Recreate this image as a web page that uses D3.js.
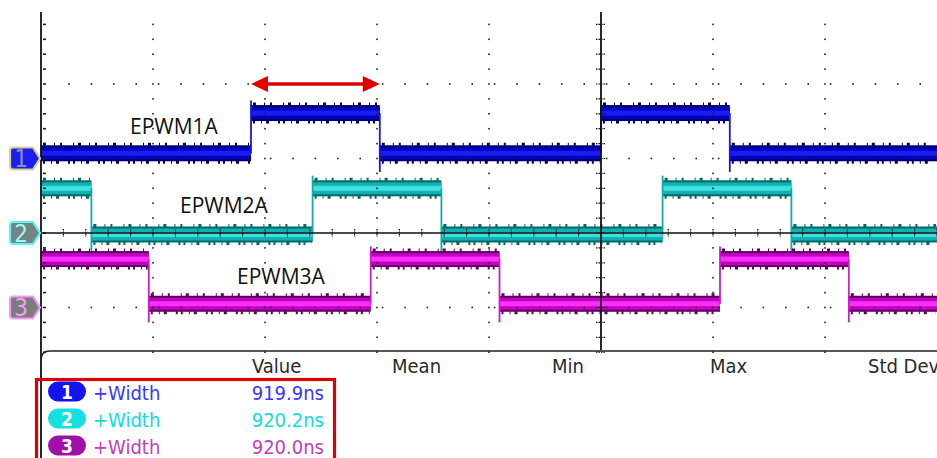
<!DOCTYPE html>
<html>
<head>
<meta charset="utf-8">
<script src="https://cdn.jsdelivr.net/npm/d3@7"></script>
<style>
body { margin:0; background:#fff; }
svg { display:block; }
</style>
</head>
<body>
<div class="scope"></div>
<script>
// edge times in ns (0 = screen centre, 800ns/div)
var ch1Edges = [-2500, -1580, 0, 920];
var ch2Edges = [-3640, -2060, -1140, 440, 1360];
var ch3Edges = [-3230, -1645, -725, 850, 1770];
var startLevels = [0, 1, 1];
// levels in divisions
var offsets = [1, 0, -1];
var lowLevels = [1.07, -0.02, -0.95];
var highLevels = [1.61, 0.6, -0.35];
var channelNames = ["EPWM1A", "EPWM2A", "EPWM3A"];
var statHeaders = ["Value", "Mean", "Min", "Max", "Std Dev"];
var measureLabels = ["+Width", "+Width", "+Width"];
var measureValues = ["919.9ns", "920.2ns", "920.0ns"];
var arrowSpan = [-2500, -1580];

var width = 937, height = 458;
var tStart = -4000, tEnd = 2400;

var x = d3.scaleLinear().domain([-4000, 4000]).range([41, 1161]);
var y = d3.scaleLinear().domain([-4, 4]).range([531, -65]);

var colors = [
	{outer:"#00006a", body:"#0000c0", center:"#1c1cf0", edge:"#1a1ac8"},
	{outer:"#006a6a", body:"#12b0b0", center:"#40e0e0", edge:"#14a8a8"},
	{outer:"#600060", body:"#c000c0", center:"#ff30ff", edge:"#c420c4"}
];
var markerStyle = [
	{fill:"#1c1cf4", stroke:"#d8d098", text:"#8a94a8"},
	{fill:"#748484", stroke:"#5ff4f4", text:"#9ff8f8"},
	{fill:"#7c7c7c", stroke:"#f09cf0", text:"#f0a0f0"}
];
var pillColors = ["#1414f0", "#14e0e0", "#a010a8"];
var textColors = ["#3838ff", "#10dcdc", "#c040c0"];

var svg = d3.select(".scope").append("svg")
	.attr("width", width)
	.attr("height", height);

var plotBottom = 350;

// traces
var allEdges = [ch1Edges, ch2Edges, ch3Edges];
var traces = svg.append("g").attr("id", "traces");

allEdges.forEach(function(edges, c){
	var segs = [];
	var lvl = startLevels[c];
	var t0 = tStart;
	edges.forEach(function(t){
		segs.push({t0:t0, t1:t, lvl:lvl});
		lvl = 1 - lvl;
		t0 = t;
	});
	segs.push({t0:t0, t1:tEnd, lvl:lvl});
	var col = colors[c];
	var lv = function(d){ return y(d.lvl ? highLevels[c] : lowLevels[c]); };
	var g = traces.append("g");

	// noise fuzz on band edges
	[-9, 9].forEach(function(off, k){
		g.selectAll(null).data(segs).enter().append("line")
			.attr("x1", function(d){ return x(d.t0) + 2; })
			.attr("x2", function(d){ return x(d.t1) - 1; })
			.attr("y1", function(d){ return lv(d) + off; })
			.attr("y2", function(d){ return lv(d) + off; })
			.attr("stroke", col.outer)
			.attr("stroke-width", 3)
			.attr("stroke-dasharray", k ? "2 6 1 4 3 9 2 3" : "3 8 1 5 2 11 1 4");
	});

	g.selectAll(null).data(segs).enter().append("rect")
		.attr("x", function(d){ return x(d.t0); })
		.attr("width", function(d){ return x(d.t1) - x(d.t0); })
		.attr("y", function(d){ return lv(d) - 8; })
		.attr("height", 16)
		.attr("fill", col.outer);
	g.selectAll(null).data(segs).enter().append("rect")
		.attr("x", function(d){ return x(d.t0); })
		.attr("width", function(d){ return x(d.t1) - x(d.t0); })
		.attr("y", function(d){ return lv(d) - 6; })
		.attr("height", 12)
		.attr("fill", col.body);
	g.selectAll(null).data(segs).enter().append("rect")
		.attr("x", function(d){ return x(d.t0); })
		.attr("width", function(d){ return x(d.t1) - x(d.t0); })
		.attr("y", function(d){ return lv(d) - 2.5; })
		.attr("height", 5)
		.attr("fill", col.center);

	// thin transition edges with over/undershoot
	g.selectAll(null).data(segs.slice(1)).enter().append("line")
		.attr("x1", function(d){ return x(d.t0); })
		.attr("x2", function(d){ return x(d.t0); })
		.attr("y1", function(d){ return d.lvl ? y(lowLevels[c]) : y(highLevels[c]); })
		.attr("y2", function(d){ return d.lvl ? y(highLevels[c] + 0.17) : y(lowLevels[c] - 0.25); })
		.attr("stroke", col.edge)
		.attr("stroke-width", 1.8);
});

// grid dots
var grid = svg.append("g").attr("id", "grid").attr("fill", "#222");
var vDivs = [-3200, -2400, -1600, -800, 800, 1600];
var hDivs = [2, 1, -1];
vDivs.forEach(function(t){
	grid.selectAll(null).data(d3.range(2.8, -1.61, -0.2)).enter().append("rect")
		.attr("x", x(t) - 0.8).attr("y", function(d){ return y(d) - 0.8; })
		.attr("width", 1.6).attr("height", 1.6);
});
hDivs.forEach(function(v){
	grid.selectAll(null).data(d3.range(-3800, 2401, 160)).enter().append("rect")
		.attr("x", function(d){ return x(d) - 0.8; }).attr("y", y(v) - 0.8)
		.attr("width", 1.6).attr("height", 1.6);
});
// left border ticks
grid.selectAll(null).data(d3.range(2.8, -1.61, -0.2)).enter().append("rect")
	.attr("x", 43).attr("y", function(d){ return y(d) - 0.8; })
	.attr("width", 3).attr("height", 1.6);

// centre axes with ticks
var axes = svg.append("g").attr("id", "axes").attr("stroke", "#111");
axes.append("line").attr("x1", 41).attr("x2", width).attr("y1", y(0)).attr("y2", y(0)).attr("stroke-width", 1.5);
axes.append("line").attr("x1", x(0)).attr("x2", x(0)).attr("y1", 12).attr("y2", plotBottom).attr("stroke-width", 1.8);
axes.selectAll(null).data(d3.range(-3840, 2401, 160)).enter().append("line")
	.attr("x1", function(d){ return x(d); }).attr("x2", function(d){ return x(d); })
	.attr("y1", y(0) - 4).attr("y2", y(0) + 4)
	.attr("stroke-width", 1.2).attr("stroke-dasharray", "1.5 1");
axes.selectAll(null).data(d3.range(2.8, -1.61, -0.2)).enter().append("line")
	.attr("x1", x(0) - 5).attr("x2", x(0) + 5)
	.attr("y1", function(d){ return y(d); }).attr("y2", function(d){ return y(d); })
	.attr("stroke-width", 1.2).attr("stroke-dasharray", "1.5 1");

// frame
svg.append("line").attr("x1", 41).attr("x2", 41).attr("y1", 12).attr("y2", height)
	.attr("stroke", "#111").attr("stroke-width", 1.8);
svg.append("path")
	.attr("d", "M41,360 Q41,351 50,351 L" + width + ",351")
	.attr("fill", "none").attr("stroke", "#222").attr("stroke-width", 1.5);

// channel markers
offsets.forEach(function(o, i){
	var c = y(o);
	var m = markerStyle[i];
	svg.append("path")
		.attr("d", "M13," + (c - 11) + " L33," + (c - 11) + " L40," + c + " L33," + (c + 11) +
			" L13," + (c + 11) + " Q10," + (c + 11) + " 10," + (c + 8) + " L10," + (c - 8) + " Q10," + (c - 11) + " 13," + (c - 11) + " Z")
		.attr("fill", m.fill).attr("stroke", m.stroke).attr("stroke-width", 2.2);
	svg.append("text")
		.attr("x", 21).attr("y", c + 8.5)
		.attr("text-anchor", "middle")
		.attr("font-family", "DejaVu Sans Condensed, DejaVu Sans, sans-serif")
		.attr("font-size", 24)
		.attr("fill", m.text)
		.text(i + 1);
});

// channel labels
var labelPos = [[130, 134], [180, 213], [237, 284]];
svg.selectAll(".chlabel").data(channelNames).enter().append("text")
	.attr("class", "chlabel")
	.attr("x", function(d, i){ return labelPos[i][0]; })
	.attr("y", function(d, i){ return labelPos[i][1]; })
	.attr("font-family", "Open Sans, sans-serif")
	.attr("font-size", 21)
	.attr("fill", "#111")
	.text(function(d){ return d; });

// red double arrow
var ay = y(2), ax1 = x(arrowSpan[0]), ax2 = x(arrowSpan[1]);
svg.append("line").attr("x1", ax1 + 12).attr("x2", ax2 - 12).attr("y1", ay).attr("y2", ay)
	.attr("stroke", "#e00000").attr("stroke-width", 3.5);
svg.append("path").attr("d", "M" + ax1 + "," + ay + " L" + (ax1 + 17) + "," + (ay - 8) + " L" + (ax1 + 17) + "," + (ay + 8) + " Z").attr("fill", "#e00000");
svg.append("path").attr("d", "M" + ax2 + "," + ay + " L" + (ax2 - 17) + "," + (ay - 8) + " L" + (ax2 - 17) + "," + (ay + 8) + " Z").attr("fill", "#e00000");

// measurement panel
var headerX = [252, 392, 552, 710, 868];
svg.selectAll(".hdr").data(statHeaders).enter().append("text")
	.attr("class", "hdr")
	.attr("x", function(d, i){ return headerX[i]; })
	.attr("y", 373)
	.attr("font-family", "DejaVu Sans Condensed, DejaVu Sans, sans-serif")
	.attr("font-size", 20)
	.attr("fill", "#2a2a2a")
	.text(function(d){ return d; });

svg.append("rect").attr("x", 36.5).attr("y", 379.5).attr("width", 298).attr("height", 90)
	.attr("fill", "none").attr("stroke", "#dd0000").attr("stroke-width", 3.2);

var rows = svg.selectAll(".row").data(measureValues).enter().append("g")
	.attr("class", "row")
	.attr("transform", function(d, i){ return "translate(0," + (391.5 + i * 27) + ")"; });
rows.append("rect").attr("x", 48).attr("y", -10).attr("width", 38).attr("height", 20).attr("rx", 10)
	.attr("fill", function(d, i){ return pillColors[i]; });
rows.append("text").attr("x", 67).attr("y", 7.5).attr("text-anchor", "middle")
	.attr("font-family", "DejaVu Sans Condensed, DejaVu Sans, sans-serif").attr("font-size", 19)
	.attr("font-weight", "bold").attr("fill", "#fff")
	.text(function(d, i){ return i + 1; });
rows.append("text").attr("x", 93).attr("y", 8)
	.attr("font-family", "DejaVu Sans Condensed, DejaVu Sans, sans-serif").attr("font-size", 20)
	.attr("fill", function(d, i){ return textColors[i]; })
	.text(function(d, i){ return measureLabels[i]; });
rows.append("text").attr("x", 324).attr("y", 8).attr("text-anchor", "end")
	.attr("font-family", "DejaVu Sans Condensed, DejaVu Sans, sans-serif").attr("font-size", 20)
	.attr("fill", function(d, i){ return textColors[i]; })
	.text(function(d){ return d; });
</script>
</body>
</html>
